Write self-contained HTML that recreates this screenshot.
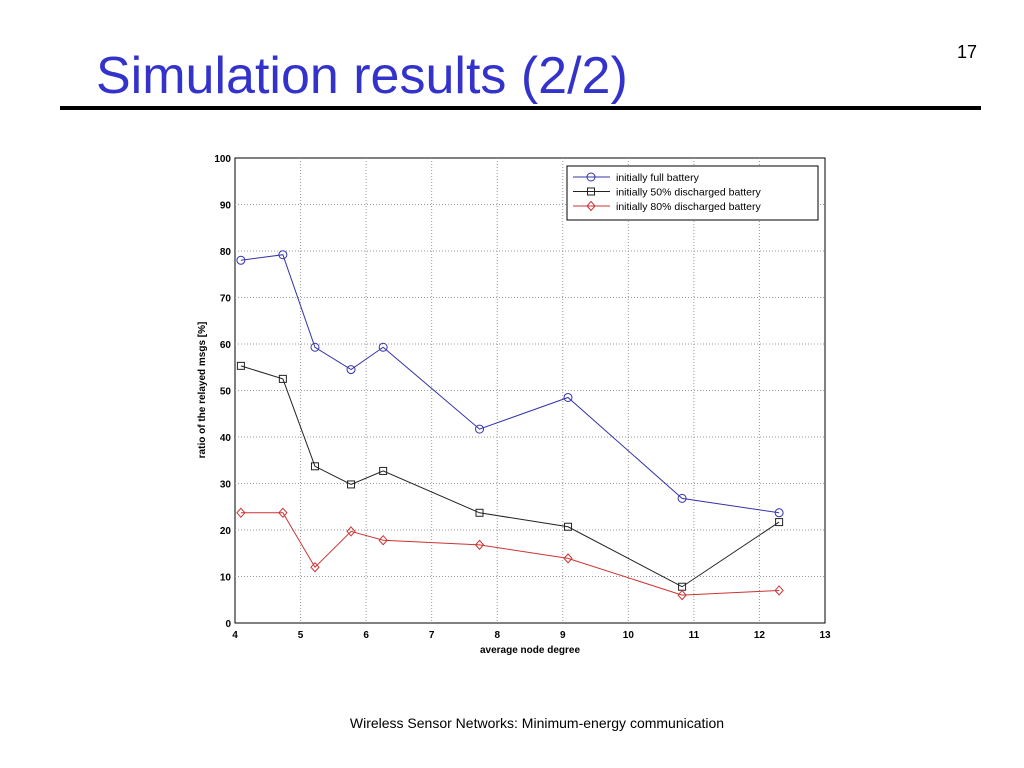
<!DOCTYPE html>
<html><head><meta charset="utf-8"><style>
body{margin:0;width:1024px;height:768px;background:#fff;position:relative;overflow:hidden;font-family:"Liberation Sans",sans-serif}
#title{position:absolute;left:96px;top:45px;font-size:52px;color:#3333cc;margin:0;font-weight:normal;line-height:62px}
#rule{position:absolute;left:60px;top:106px;width:921px;height:4px;background:#000}
#pnum{position:absolute;left:957px;top:42px;font-size:18px}
#footer{position:absolute;left:0;width:1074px;top:715px;text-align:center;font-size:14px}
</style></head><body>
<h1 id="title">Simulation results (2/2)</h1>
<div id="rule"></div>
<div id="pnum">17</div>
<div id="footer">Wireless Sensor Networks: Minimum-energy communication</div>
<svg id="chart" width="1024" height="768" style="position:absolute;left:0;top:0" font-family="Liberation Sans, sans-serif"></svg>
<script>
const xValues=[4.09,4.73,5.22,5.77,6.26,7.73,9.08,10.82,12.3];
const fullBattery=[78,79.2,59.3,54.5,59.3,41.7,48.5,26.8,23.7];
const half=[55.3,52.5,33.7,29.8,32.7,23.7,20.7,7.8,21.7];
const eighty=[23.7,23.7,12,19.7,17.8,16.8,13.9,6,7];
const xTicks=[4,5,6,7,8,9,10,11,12,13];
const yTicks=[0,10,20,30,40,50,60,70,80,90,100];
const L=235,R=825,T=158,B=623;
const sx=v=>L+(v-4)/9*(R-L), sy=v=>B-v/100*(B-T);
const svg=document.getElementById('chart');const NS='http://www.w3.org/2000/svg';
function mk(t,a,txt){const e=document.createElementNS(NS,t);for(const k in a)e.setAttribute(k,a[k]);if(txt!=null)e.textContent=txt;svg.appendChild(e);return e;}
let e=mk('rect',{x:L,y:T,width:R-L,height:B-T,fill:'#fff',stroke:'#000','stroke-width':1});


xTicks.forEach(v=>{const x=sx(v);
 if(v>4&&v<13){e=mk('line',{x1:x,x2:x,y1:T,y2:B,stroke:'#999','stroke-dasharray':'1,2'});
 
 }
 e=mk('text',{x:x,y:B+15,'font-size':10,'font-weight':'bold','text-anchor':'middle'},v);
 
 });
yTicks.forEach(v=>{const y=sy(v);
 if(v>0&&v<100){e=mk('line',{x1:L,x2:R,y1:y,y2:y,stroke:'#999','stroke-dasharray':'1,2'});
 
 }
 e=mk('text',{x:L-4,y:y+4,'font-size':10,'font-weight':'bold','text-anchor':'end'},v);
 
 });
e=mk('text',{x:530,y:653,'font-size':10,'font-weight':'bold','text-anchor':'middle'},'average node degree');


e=mk('text',{x:0,y:0,'font-size':10,'font-weight':'bold','text-anchor':'middle',transform:'translate(205,390) rotate(-90)'},'ratio of the relayed msgs [%]');


function marker(x,y,type,color){
 if(type==='o')return mk('circle',{cx:x,cy:y,r:4,fill:'none',stroke:color});
 if(type==='s')return mk('rect',{x:x-3.5,y:y-3.5,width:7,height:7,fill:'none',stroke:color});
 return mk('polygon',{points:`${x},${y-4.5} ${x+4},${y} ${x},${y+4.5} ${x-4},${y}`,fill:'none',stroke:color});}
const series=[[fullBattery,'#3333aa','o','full-battery'],[half,'#222','s','half-discharged'],[eighty,'#cc3333','d','eighty-discharged']];
series.forEach(([d,c,m,n])=>{
 e=mk('polyline',{points:d.map((v,i)=>sx(xValues[i])+','+sy(v)).join(' '),fill:'none',stroke:c,'stroke-width':1});
 
 
 d.forEach((v,i)=>{e=marker(sx(xValues[i]),sy(v),m,c);
 
 });});
e=mk('rect',{x:567,y:166,width:251,height:54,fill:'#fff',stroke:'#000'});


const labels=['initially full battery','initially 50% discharged battery','initially 80% discharged battery'];
series.forEach(([d,c,m,n],i)=>{const y=177+i*14.5;
 e=mk('line',{x1:573,x2:610,y1:y,y2:y,stroke:c});
 
 
 e=marker(591,y,m,c);
 
 
 e=mk('text',{x:616,y:y+4,'font-size':10.5},labels[i]);
 
 });
</script>
</body></html>
